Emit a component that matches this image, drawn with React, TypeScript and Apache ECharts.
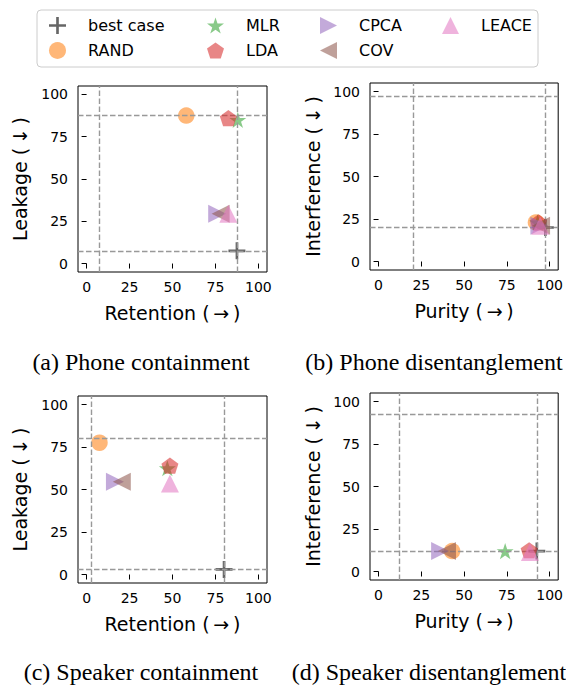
import React, { useEffect, useRef } from "react";
import * as echarts from "echarts";

// ---- data ----
const methods = ["best case", "RAND", "MLR", "LDA", "CPCA", "COV", "LEACE"];
const tickValues = [0, 25, 50, 75, 100];

const phoneContX = [87.5, 58, 88, 82.5, 76, 78, 82.5];
const phoneContY = [7.5, 87.5, 85, 86, 29.5, 29.5, 29.5];
const phoneDisX = [97.5, 92, 93, 93.5, 94, 95, 94.5];
const phoneDisY = [20, 23, 23, 23, 21, 21, 21];
const spkContX = [80, 7.5, 47, 48.5, 16.5, 20.5, 48.5];
const spkContY = [3, 77.5, 62.5, 64, 54.5, 54.5, 53.5];
const spkDisX = [92.5, 43, 74, 88, 36, 40, 88.5];
const spkDisY = [12, 12, 12, 12.5, 12, 12, 11.5];

const xNames = ["Retention (\u2009→\u2009)", "Purity (\u2009→\u2009)", "Retention (\u2009→\u2009)", "Purity (\u2009→\u2009)"];
const yNames = ["Leakage (\u2009↓\u2009)", "Interference (\u2009↓\u2009)", "Leakage (\u2009↓\u2009)", "Interference (\u2009↓\u2009)"];
const captions = [
  "(a) Phone containment",
  "(b) Phone disentanglement",
  "(c) Speaker containment",
  "(d) Speaker disentanglement",
];

// ---- styling ----
const colors = [
  "rgba(0,0,0,0.75)",
  "rgba(255,127,14,0.7)",
  "rgba(44,160,44,0.7)",
  "rgba(214,39,40,0.7)",
  "rgba(148,103,189,0.7)",
  "rgba(140,86,75,0.7)",
  "rgba(227,119,194,0.7)",
];

function polyPath(n: number, rOuter: number, rInner: number | null): string {
  const pts: string[] = [];
  const count = rInner === null ? n : n * 2;
  for (let k = 0; k < count; k++) {
    const ang = Math.PI / 2 + (k * 2 * Math.PI) / count;
    const r = rInner === null ? rOuter : k % 2 === 0 ? rOuter : rInner;
    pts.push(`${(r * Math.cos(ang)).toFixed(4)} ${(-r * Math.sin(ang)).toFixed(4)}`);
  }
  return "path://M" + pts.join(" L") + " Z";
}

const plusPath = "path://M6.75,0 H9.25 V6.75 H16 V9.25 H9.25 V16 H6.75 V9.25 H0 V6.75 H6.75 Z";
const starPath = polyPath(5, 1, 0.381966);
const pentPath = polyPath(5, 1, null);
const rightTri = "path://M0,0 L2,1 L0,2 Z";
const leftTri = "path://M2,0 L0,1 L2,2 Z";

const symbols = [plusPath, "circle", starPath, pentPath, rightTri, leftTri, "triangle"];
const symbolSizes: any[] = [17, 16.5, [17, 16.2], [17, 16.2], 18, 18, 18];

const grids = [
  { left: 78, top: 86, width: 189, height: 186 },
  { left: 370, top: 83, width: 189, height: 187 },
  { left: 78, top: 396, width: 189, height: 187 },
  { left: 370, top: 393, width: 189, height: 187 },
];
const captionPos = [
  [141, 362],
  [434, 362],
  [141, 672],
  [429, 672],
];

const SANS = "DejaVu Sans";

export default function App() {
  const ref = useRef<HTMLDivElement>(null);
  useEffect(() => {
    if (!ref.current) return;
    const chart = echarts.init(ref.current, undefined, { renderer: "svg" });
    const panels = [
      { x: phoneContX, y: phoneContY },
      { x: phoneDisX, y: phoneDisY },
      { x: spkContX, y: spkContY },
      { x: spkDisX, y: spkDisY },
    ];
    const series: any[] = [];
    panels.forEach((p, gi) => {
      methods.forEach((m, mi) => {
        const s: any = {
          type: "scatter",
          name: m,
          xAxisIndex: gi,
          yAxisIndex: gi,
          data: [[p.x[mi], p.y[mi]]],
          symbol: symbols[mi],
          symbolSize: symbolSizes[mi],
          itemStyle: { color: colors[mi] },
          z: 2 + mi,
          silent: true,
          emphasis: { disabled: true },
        };
        if (mi === 0) {
          const bx = p.x[0];
          const by = p.y[0];
          s.markLine = {
            silent: true,
            symbol: ["none", "none"],
            label: { show: false },
            lineStyle: { color: "#999999", width: 1.4, type: [5.5, 2.5] },
            emphasis: { disabled: true },
            data: [{ xAxis: bx }, { xAxis: by }, { yAxis: bx }, { yAxis: by }],
          };
        }
        series.push(s);
      });
    });

    const xAxis = grids.map((_, gi) => ({
      gridIndex: gi,
      type: "value",
      min: -5,
      max: 105,
      name: xNames[gi],
      nameLocation: "middle",
      nameGap: 31,
      nameTextStyle: { fontSize: 19, fontFamily: SANS, color: "#000" },
      axisLine: { show: false },
      splitLine: { show: false },
      axisTick: { show: true, customValues: tickValues, length: 5, lineStyle: { color: "#000", width: 1 } },
      axisLabel: { customValues: tickValues, fontSize: 14, fontFamily: SANS, color: "#000", margin: 8 },
    }));
    const yAxis = grids.map((_, gi) => ({
      gridIndex: gi,
      type: "value",
      min: -5,
      max: 105,
      name: yNames[gi],
      nameLocation: "middle",
      nameGap: gi % 2 === 0 ? 49 : 48,
      nameTextStyle: { fontSize: 19, fontFamily: SANS, color: "#000" },
      axisLine: { show: false },
      splitLine: { show: false },
      axisTick: { show: true, customValues: tickValues, length: 5, lineStyle: { color: "#000", width: 1 } },
      axisLabel: { customValues: tickValues, fontSize: 14, fontFamily: SANS, color: "#000", margin: 10 },
    }));

    const legendCols = [
      { names: ["best case", "RAND"], left: 49 },
      { names: ["MLR", "LDA"], left: 207 },
      { names: ["CPCA", "COV"], left: 320 },
      { names: ["LEACE"], left: 442 },
    ];
    const legend = legendCols.map((c) => ({
      data: c.names,
      left: c.left,
      top: 17,
      orient: "vertical",
      padding: 0,
      itemWidth: 17,
      itemHeight: 17,
      itemGap: 8,
      selectedMode: false,
      textStyle: { fontSize: 16, fontFamily: SANS, color: "#000", lineHeight: 17, padding: [0, 0, 0, 17] },
    }));

    const graphic: any[] = [
      {
        type: "rect",
        z: 0,
        shape: { x: 37, y: 10, width: 501, height: 57, r: 4 },
        style: { fill: "rgba(255,255,255,0.8)", stroke: "#cccccc", lineWidth: 1 },
      },
    ];
    captions.forEach((t, i) => {
      graphic.push({
        type: "text",
        x: captionPos[i][0],
        y: captionPos[i][1],
        style: {
          text: t,
          fontSize: 24,
          fontFamily: "Liberation Serif",
          fill: "#000",
          textAlign: "center",
          textVerticalAlign: "middle",
        },
      });
    });

    chart.setOption({
      animation: false,
      backgroundColor: "#fff",
      grid: grids.map((g) => ({ ...g, show: true, borderColor: "#000", borderWidth: 1, backgroundColor: "transparent" })),
      xAxis,
      yAxis,
      legend,
      graphic,
      series,
    });
    return () => chart.dispose();
  }, []);
  return <div ref={ref} style={{ position: "absolute", left: 0, top: 0, width: 566, height: 686 }} />;
}
